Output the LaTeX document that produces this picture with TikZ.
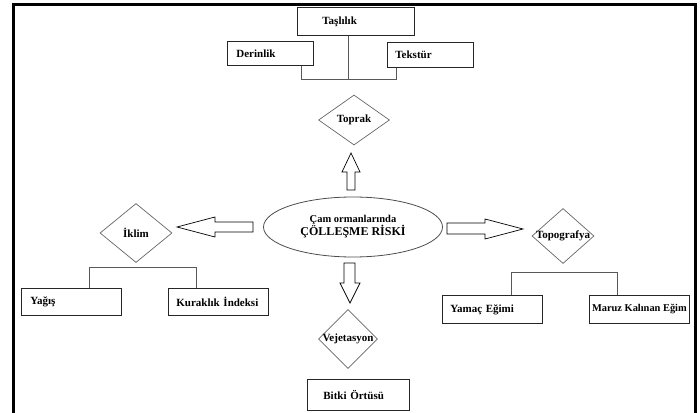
\documentclass[tikz,border=0pt]{standalone}
\usepackage{fontspec}
\setmainfont{Liberation Serif}
\usepackage{tikz}
\usetikzlibrary{shapes.geometric}

\begin{document}
\begin{tikzpicture}[x=1pt,y=-1pt,
                box/.style={draw=black!85, line width=0.8pt, rectangle, anchor=north west, align=left, inner ysep=0pt, font=\bfseries\fontsize{11}{13}\selectfont},
                cond/.style={draw=black!60, line width=0.7pt, diamond, inner sep=0pt},
                link/.style={draw=black!65, line width=0.8pt},
                fat/.style={draw=black, line width=0.7pt}]
                \tikzstyle{every label}+=[font=\bfseries\fontsize{11}{13}\selectfont]
                \useasboundingbox (0,0) rectangle (700,412);
                \draw [line width=3pt] (13.5,420) -- (13.5,4.5) -- (695,4.5) -- (695,420);
                \node [draw=black!70, line width=0.8pt, ellipse, minimum width=179pt, minimum height=60pt, align=center, font=\bfseries\fontsize{10.5}{13}\selectfont] (risk) at (353,227) {Çam ormanlarında\\{\fontsize{12}{13}\selectfont ÇÖLLEŞME RİSKİ}};
                \node [cond, minimum width=71pt, minimum height=50pt, label=center:Toprak] (toprak) at (354,120) {};
                \node [cond, minimum width=72pt, minimum height=59pt, label=center:İklim] (iklim) at (136,233) {};
                \node [cond, minimum width=62pt, minimum height=55pt, label=center:Topografya] (topografya) at (563,236) {};
                \node [cond, minimum width=59pt, minimum height=59pt, label=center:Vejetasyon] (vejetasyon) at (348,339) {};
                \node [box, minimum height=28pt, inner xsep=25pt, text width=67pt] (taslilik) at (297,7) {Taşlılık};
                \node [box, minimum height=24pt, inner xsep=9pt, text width=68pt] (derinlik) at (227,41) {Derinlik};
                \node [box, minimum height=25pt, inner xsep=8pt, text width=70pt] (tekstur) at (387,42) {Tekstür};
                \node [box, minimum height=27pt, inner xsep=9pt, text width=82pt] (yagis) at (21,288) {Yağış};
                \node [box, minimum height=27pt, inner xsep=8pt, text width=84pt] (kuraklik) at (168,288) {Kuraklık İndeksi};
                \node [box, minimum height=28pt, inner xsep=8pt, text width=84pt] (yamac) at (442,295) {Yamaç Eğimi};
                \node [box, minimum height=28pt, minimum width=100pt, inner xsep=0pt, font=\bfseries\fontsize{10.4}{12}\selectfont] (maruz) at (589,295) {Maruz Kalınan Eğim};
                \node [box, minimum height=31pt, inner xsep=16pt, text width=70pt] (bitki) at (307,379) {Bitki Örtüsü};
                \coordinate (soilL) at (301,79);
                \coordinate (soilM) at (348,79);
                \coordinate (soilR) at (396,79);
                \coordinate (climL) at (89,267);
                \coordinate (climR) at (196,267);
                \coordinate (topoL) at (511,272);
                \coordinate (topoR) at (617,272);
                \draw [link] (derinlik.south -| soilL) -- (soilL) -- (soilR) -- (tekstur.south -| soilR);
                \draw [link] (taslilik.south -| soilM) -- (soilM);
                \draw [link] (yagis.north -| climL) -- (climL) -- (climR) -- (kuraklik.north -| climR);
                \draw [link] (yamac.north -| topoL) -- (topoL) -- (topoR) -- (maruz.north -| topoR);
                \draw [fat] (347,190) -- (347,172) -- (342,172) -- (351,153) -- (360,172) -- (355,172) -- (355,190) -- cycle;
                \draw [fat] (253,222) -- (215,222) -- (215,217) -- (177,227) -- (215,237) -- (215,232) -- (253,232) -- cycle;
                \draw [fat] (447,223) -- (485,223) -- (485,219) -- (523,229) -- (485,239) -- (485,234) -- (447,234) -- cycle;
                \draw [fat] (344,263) -- (355,263) -- (355,283) -- (360,283) -- (350,303) -- (340,283) -- (344,283) -- cycle;
                \end{tikzpicture}
\end{document}
